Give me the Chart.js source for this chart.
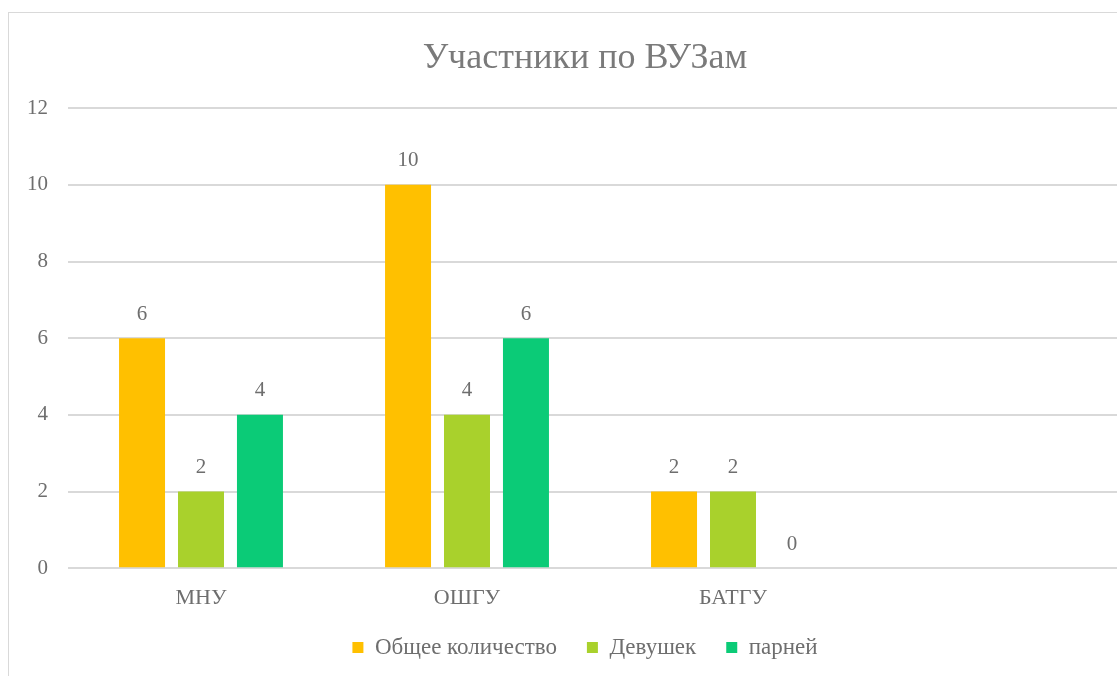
<!DOCTYPE html>
<html>
<head>
<meta charset="utf-8">
<script src="https://cdn.jsdelivr.net/npm/chart.js@4"></script>
<style>
  html, body { margin: 0; padding: 0; background: #fff; overflow: hidden; }
  #wrap {
    position: absolute; left: 8px; top: 12px;
    width: 1154px; height: 690px;
    border: 1px solid #d9d9d9; box-sizing: border-box;
  }
</style>
</head>
<body>
<div id="wrap"><canvas id="chart"></canvas></div>
<script>
const categories = ['МНУ', 'ОШГУ', 'БАТГУ', ''];
const totalCount = [6, 10, 2, null];
const girlsCount = [2, 4, 2, null];
const boysCount = [4, 6, 0, null];
const yTicks = [0, 2, 4, 6, 8, 10, 12];

const FONT = '"Liberation Serif", "Times New Roman", serif';
const TEXT = '#6e6e6e';

// simple value labels above the bars
const valueLabels = {
  id: 'valueLabels',
  afterDatasetsDraw(chart) {
    const c = chart.ctx;
    c.save();
    c.font = '21px ' + FONT;
    c.fillStyle = TEXT;
    c.textAlign = 'center';
    c.textBaseline = 'middle';
    chart.data.datasets.forEach((ds, i) => {
      chart.getDatasetMeta(i).data.forEach((bar, j) => {
        const v = ds.data[j];
        if (v === null || v === undefined) return;
        c.fillText(String(v), bar.x, bar.y - 24);
      });
    });
    c.restore();
  }
};

new Chart(document.getElementById('chart'), {
  type: 'bar',
  data: {
    labels: categories,
    datasets: [
      { label: 'Общее количество', data: totalCount, backgroundColor: '#FFC000' },
      { label: 'Девушек', data: girlsCount, backgroundColor: '#A9D12C' },
      { label: 'парней', data: boysCount, backgroundColor: '#0BCB77' }
    ]
  },
  options: {
    responsive: true,
    maintainAspectRatio: false,
    animation: false,
    categoryPercentage: 0.665,
    barPercentage: 0.78,
    layout: { padding: { left: 17, right: 17, top: 16, bottom: 32 } },
    plugins: {
      title: {
        display: true,
        text: 'Участники по ВУЗам',
        color: '#7a7a7a',
        font: { family: FONT, size: 36, weight: 'normal' },
        padding: { top: 8, bottom: 28 }
      },
      legend: {
        position: 'bottom',
        labels: {
          color: TEXT,
          font: { family: FONT, size: 23 },
          boxWidth: 11,
          boxHeight: 11,
          padding: 7,
          // a bit of extra room between the items
          generateLabels(chart) {
            const items = Chart.defaults.plugins.legend.labels.generateLabels(chart);
            items.forEach((it, i) => { if (i < items.length - 1) it.text += '\u2002\u2002'; });
            return items;
          }
        }
      },
      tooltip: { enabled: false }
    },
    scales: {
      x: {
        grid: { display: false, drawTicks: false },
        border: { display: false },
        ticks: { color: TEXT, font: { family: FONT, size: 22, lineHeight: 0.4 }, padding: 26 }
      },
      y: {
        min: 0,
        max: 12,
        afterBuildTicks(scale) { scale.ticks = yTicks.map(v => ({ value: v })); },
        afterFit(scale) { scale.width = 42; },
        grid: { color: '#d9d9d9', lineWidth: 2, drawTicks: false },
        border: { display: false },
        ticks: { color: TEXT, font: { family: FONT, size: 21 }, padding: 20 }
      },
      // empty right-hand gutter so title and legend stay centred on the whole chart
      gutter: {
        position: 'right',
        min: 0,
        max: 12,
        afterFit(scale) { scale.width = 12; },
        grid: { display: false, drawTicks: false },
        border: { display: false },
        ticks: { display: false }
      }
    }
  },
  plugins: [valueLabels]
});
</script>
</body>
</html>
